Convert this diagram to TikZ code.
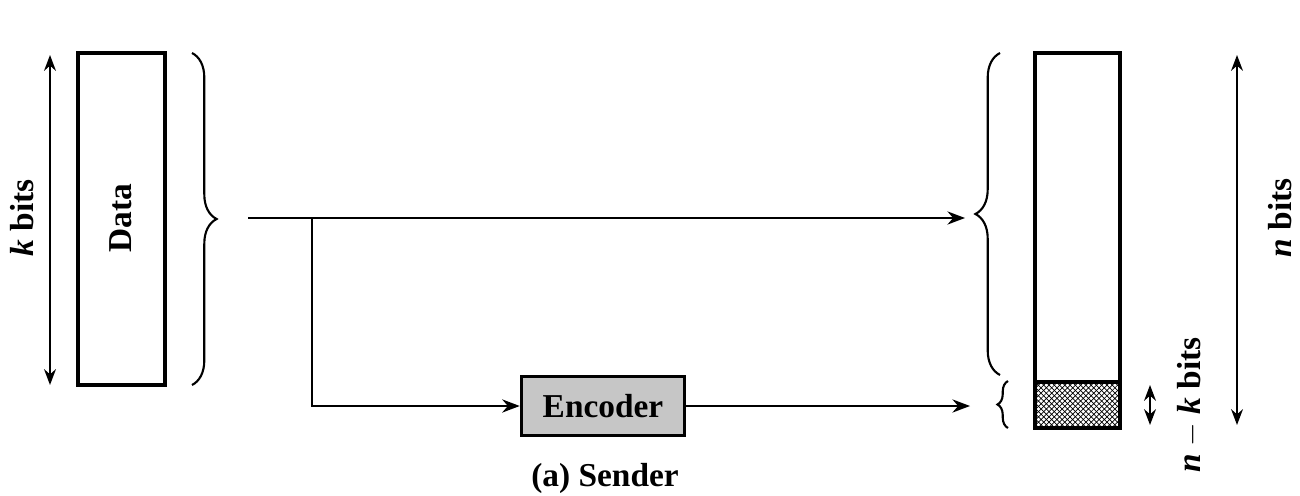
\documentclass[tikz,border=0pt]{standalone}
\usepackage{fontspec}
\setmainfont{Liberation Serif}
\usetikzlibrary{arrows.meta}
\usetikzlibrary{patterns}
\usetikzlibrary{decorations.pathreplacing}
\usetikzlibrary{positioning}
\tikzset{
  dim/.style={{Stealth[length=9pt]}-{Stealth[length=9pt]},line width=1.2pt},
  flow/.style={-{Stealth[length=10pt]},line width=1.1pt},
  brc/.style={decorate,decoration={brace,amplitude=14pt},line width=1.2pt},
  lbl/.style={font=\fontsize{19}{22}\selectfont\bfseries}
}
\begin{document}
\begin{tikzpicture}[x=0.02cm,y=-0.02cm]
\useasboundingbox (0,0) rectangle (1300,496);

% sender side
\draw[dim] (50,55) -- (50,385);
\node[lbl,rotate=90] (kb) at (22,218) {\textit{k} bits};
\draw[line width=2pt] (78,53) rectangle (165,385);
\node[lbl,rotate=90] (data) at (121,218) {Data};
\draw[brc] (192,53) -- (192,385);

\coordinate (src) at (248,218);
\coordinate (split) at (312,218);
\coordinate (tgt) at (965,218);
\node[lbl,draw,fill=gray!45,line width=2pt,minimum width=163*0.02cm,minimum height=59*0.02cm,inner sep=0pt] (enc) at (603,406) {Encoder};
\coordinate (corner) at (312,406);
\coordinate (ctgt) at (970,406);
\draw[flow] (src) -- (tgt);
\draw[flow] (split) -- (corner) -- (enc.west);
\draw[flow] (enc.east) -- (ctgt);

% codeword
\draw[brc] (1000,375) -- (1000,53);
\draw[decorate,decoration={brace,amplitude=6pt},line width=1.2pt] (1008,428) -- (1008,381);
\fill[pattern=crosshatch] (1035,382) rectangle (1120,428);
\draw[line width=2pt] (1035,382) -- (1120,382);
\draw[line width=2pt] (1035,53) rectangle (1120,428);
\draw[dim] (1150,385) -- (1150,425);
\node[lbl,rotate=90] (nk) at (1190,405) {\textit{n} $-$ \textit{k} bits};
\draw[dim] (1237,55) -- (1237,425);
\node[lbl,rotate=90] (nb) at (1280,218) {\textit{n} bits};

\node[lbl] (cap) at (605,478) {(a) Sender};
\end{tikzpicture}
\end{document}
